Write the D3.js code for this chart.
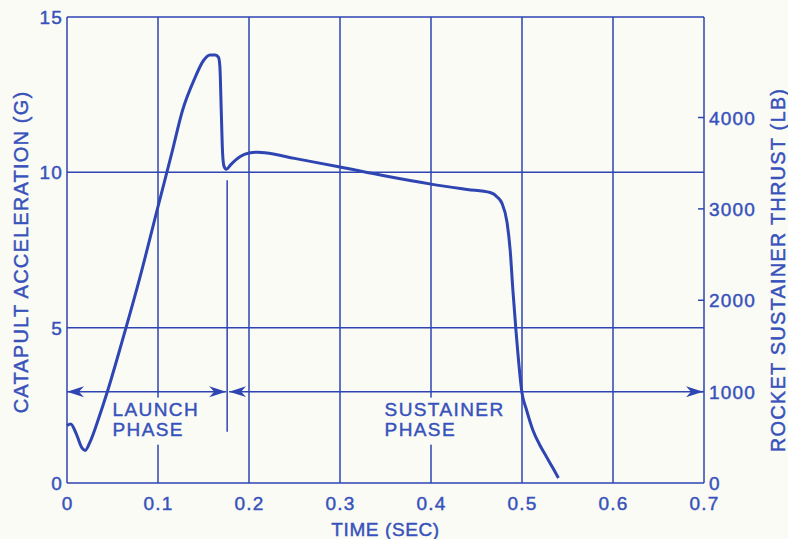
<!DOCTYPE html>
<html>
<head>
<meta charset="utf-8">
<script src="https://cdn.jsdelivr.net/npm/d3@7"></script>
<style>
  body { margin: 0; background: #fbfbf6; }
  svg { display: block; }
  text { font-family: "Liberation Sans", Arial, sans-serif; fill: #3752ba; stroke: #3752ba; stroke-width: 0.45; }
</style>
</head>
<body>
<div id="chart"></div>
<script>
// catapult acceleration trace
const timeSec = [0, 0.004, 0.010, 0.016, 0.020, 0.025, 0.035, 0.045, 0.06, 0.08, 0.10, 0.115, 0.127,
    0.14, 0.15, 0.157, 0.163, 0.1665, 0.168, 0.1695, 0.171, 0.1725, 0.175, 0.18, 0.19, 0.20, 0.21,
    0.22, 0.25, 0.30, 0.35, 0.40, 0.44, 0.465, 0.473, 0.478, 0.4835, 0.487, 0.490, 0.4934, 0.5,
    0.505, 0.512, 0.52, 0.527, 0.534, 0.54];
const accelG = [1.85, 1.9, 1.6, 1.15, 1.05, 1.3, 2.1, 3.0, 4.5, 6.6, 8.9, 10.6, 12.0,
    13.0, 13.6, 13.78, 13.78, 13.7, 13.4, 12.0, 10.6, 10.2, 10.1, 10.25, 10.5, 10.62, 10.65,
    10.62, 10.45, 10.17, 9.88, 9.62, 9.45, 9.35, 9.2, 9.0, 8.4, 7.5, 6.2, 4.9, 2.9,
    2.35, 1.7, 1.2, 0.84, 0.48, 0.16];

const xTicks = [0, 0.1, 0.2, 0.3, 0.4, 0.5, 0.6, 0.7];
const gTicks = [0, 5, 10, 15];
const lbTicks = [0, 1000, 2000, 3000, 4000];

const phaseSplit = 0.176;   // launch / sustainer boundary
const phaseLevel = 1000;    // arrows sit on the 1000 lb line

const width = 788, height = 539;
const margin = {top: 17, right: 84, bottom: 56, left: 67};
const ink = "#2e45b2";

const svg = d3.select("#chart").append("svg")
    .attr("width", width)
    .attr("height", height);

const x = d3.scaleLinear().domain([0, 0.7]).range([margin.left, width - margin.right]);
const yG = d3.scaleLinear().domain([0, 15]).range([height - margin.bottom, margin.top]);
const yLb = d3.scaleLinear().domain([0, 5100]).range([height - margin.bottom, margin.top]);

const defs = svg.append("defs");
defs.append("marker")
    .attr("id", "head")
    .attr("viewBox", "0 -6 18 12")
    .attr("refX", 17).attr("refY", 0)
    .attr("markerUnits", "userSpaceOnUse")
    .attr("markerWidth", 18).attr("markerHeight", 12)
    .attr("orient", "auto-start-reverse")
    .append("path")
    .attr("d", "M0,-5.5L17,0L0,5.5L5,0Z")
    .attr("fill", ink);

const grid = svg.append("g").attr("stroke", ink).attr("stroke-width", 1.5);

// vertical grid lines
grid.selectAll(".vg")
    .data(xTicks)
    .join("line")
    .attr("class", "vg")
    .attr("x1", d => x(d)).attr("x2", d => x(d))
    .attr("y1", yG(15)).attr("y2", yG(0));

// horizontal grid lines
grid.selectAll(".hg")
    .data(gTicks)
    .join("line")
    .attr("class", "hg")
    .attr("x1", x(0)).attr("x2", x(0.7))
    .attr("y1", d => yG(d)).attr("y2", d => yG(d));

// phase divider
grid.append("line")
    .attr("x1", x(phaseSplit)).attr("x2", x(phaseSplit))
    .attr("y1", yG(10) + 8).attr("y2", yG(1.65));

// right axis small ticks
grid.selectAll(".rt")
    .data(lbTicks.slice(1))
    .join("line")
    .attr("class", "rt")
    .attr("x1", x(0.7) - 6).attr("x2", x(0.7))
    .attr("y1", d => yLb(d)).attr("y2", d => yLb(d));

// phase arrows
const yArrow = yLb(phaseLevel);
grid.append("line")
    .attr("x1", x(0)).attr("x2", x(phaseSplit) - 1)
    .attr("y1", yArrow).attr("y2", yArrow)
    .attr("marker-start", "url(#head)")
    .attr("marker-end", "url(#head)");
grid.append("line")
    .attr("x1", x(phaseSplit) + 2).attr("x2", x(0.7) - 1)
    .attr("y1", yArrow).attr("y2", yArrow)
    .attr("marker-start", "url(#head)")
    .attr("marker-end", "url(#head)");

// phase labels on patches so grid lines break behind them
const labels = [
    {t: 0.050, lines: ["LAUNCH", "PHASE"]},
    {t: 0.349, lines: ["SUSTAINER", "PHASE"]}
];
labels.forEach(l => {
    const g = svg.append("g");
    const txt = g.append("text")
        .attr("x", x(l.t))
        .attr("y", yArrow + 24)
        .attr("font-size", 19)
        .attr("letter-spacing", 1.4);
    l.lines.forEach((s, i) => {
        txt.append("tspan").attr("x", x(l.t)).attr("dy", i ? 20 : 0).text(s);
    });
    const bb = txt.node().getBBox();
    g.insert("rect", "text")
        .attr("x", bb.x - 2).attr("y", bb.y - 1)
        .attr("width", bb.width + 2).attr("height", bb.height + 6)
        .attr("fill", "#fbfbf6");
});

// acceleration curve
const line = d3.line()
    .x((d, i) => x(timeSec[i]))
    .y(d => yG(d))
    .curve(d3.curveMonotoneX);

svg.append("path")
    .datum(accelG)
    .attr("fill", "none")
    .attr("stroke", ink)
    .attr("stroke-width", 3)
    .attr("stroke-linejoin", "round")
    .attr("d", line);

// tick labels
const tickFont = 19, tickSpace = 1.2;

svg.append("g").selectAll("text")
    .data(xTicks)
    .join("text")
    .attr("x", d => x(d) + tickSpace / 2)
    .attr("y", yG(0) + 27)
    .attr("text-anchor", "middle")
    .attr("font-size", tickFont)
    .attr("letter-spacing", tickSpace)
    .text(d => d === 0 ? "0" : d3.format(".1f")(d));

svg.append("g").selectAll("text")
    .data(gTicks)
    .join("text")
    .attr("x", x(0) - 4)
    .attr("y", d => yG(d) + 7)
    .attr("text-anchor", "end")
    .attr("font-size", tickFont)
    .attr("letter-spacing", tickSpace)
    .text(d => d);

svg.append("g").selectAll("text")
    .data(lbTicks)
    .join("text")
    .attr("x", x(0.7) + 5)
    .attr("y", d => yLb(d) + 7)
    .attr("font-size", tickFont)
    .attr("letter-spacing", tickSpace)
    .text(d => d);

// axis titles
svg.append("text")
    .attr("x", x(0.35))
    .attr("y", 536)
    .attr("text-anchor", "middle")
    .attr("font-size", 19)
    .attr("letter-spacing", 0.6)
    .text("TIME (SEC)");

svg.append("text")
    .attr("transform", "translate(28,252) rotate(-90)")
    .attr("text-anchor", "middle")
    .attr("font-size", 20)
    .attr("letter-spacing", 1.2)
    .text("CATAPULT ACCELERATION (G)");

svg.append("text")
    .attr("transform", "translate(785,270) rotate(-90)")
    .attr("text-anchor", "middle")
    .attr("font-size", 20)
    .attr("letter-spacing", 1.2)
    .text("ROCKET SUSTAINER THRUST (LB)");
</script>
</body>
</html>
